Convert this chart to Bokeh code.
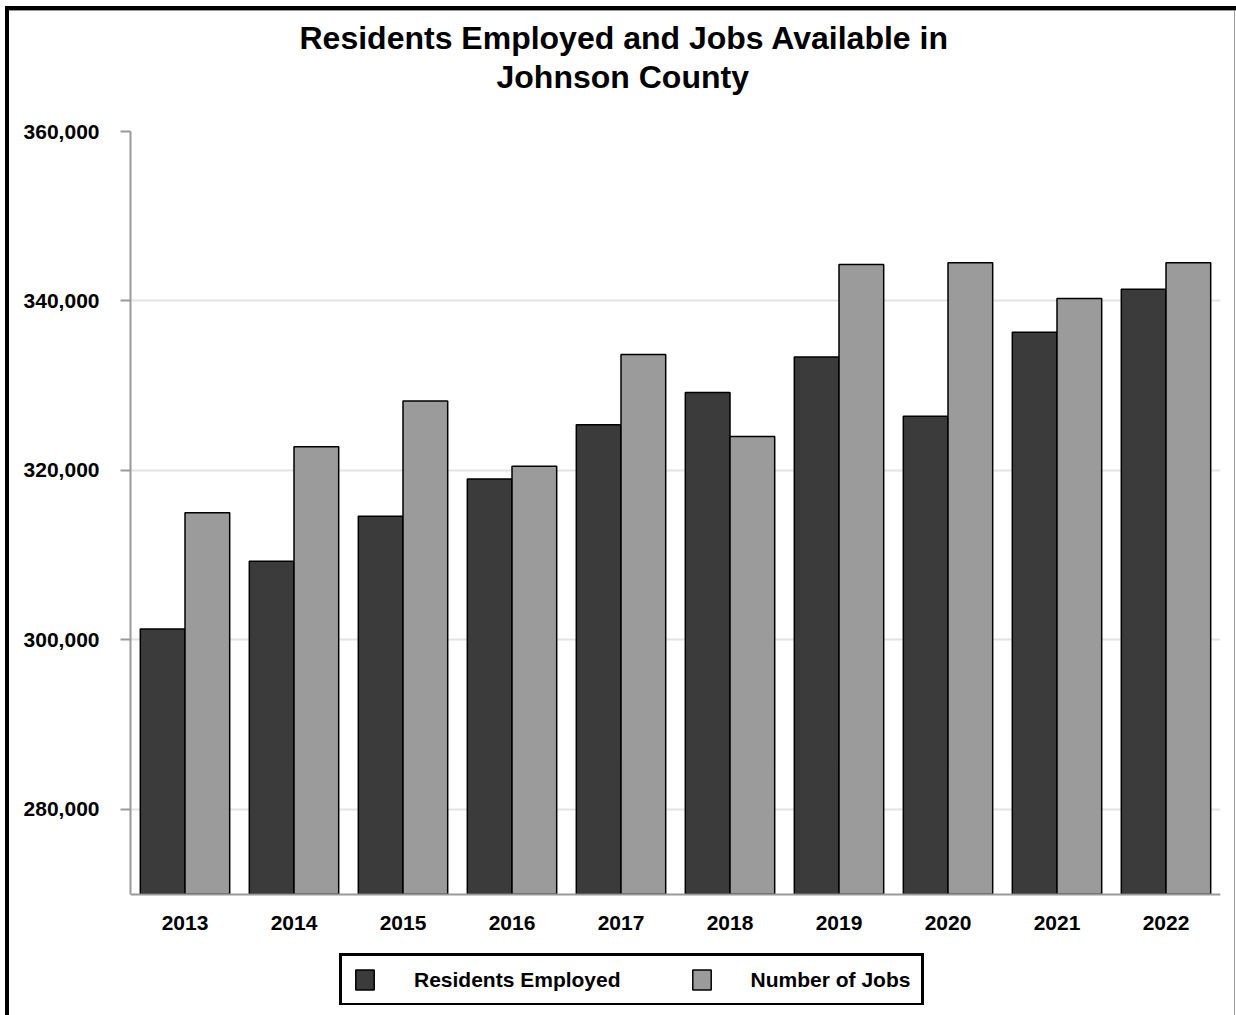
from bokeh.plotting import figure
from bokeh.models import (ColumnDataSource, FactorRange, Legend, LegendItem,
                          NumeralTickFormatter, FixedTicker, Title)
from bokeh.transform import dodge
from bokeh.embed import file_html
from bokeh.resources import INLINE

years = ["2013", "2014", "2015", "2016", "2017", "2018", "2019", "2020", "2021", "2022"]
residents_employed = [301300, 309300, 314600, 319000, 325400, 329200, 333400, 326400, 336300, 341400]
number_of_jobs = [315000, 322800, 328200, 320500, 333700, 324000, 344300, 344500, 340300, 344500]
y_ticks = [280000, 300000, 320000, 340000, 360000]
title_lines = ["Residents Employed and Jobs Available in", "Johnson County"]

FONT = "Liberation Sans"
BASE = 270000

src = ColumnDataSource(dict(year=years, res=residents_employed, jobs=number_of_jobs))

p = figure(width=1236, height=1015, x_range=FactorRange(*years, range_padding=0),
           y_range=(256870, 360000), output_backend="svg", toolbar_location=None,
           title=None,
           min_border_left=130, min_border_right=16, min_border_top=131, min_border_bottom=10)

# outer frame drawn by CSS behind a transparent border area
p.border_fill_color = None
p.background_fill_color = "white"
p.styles = {
    "background": ("linear-gradient(#000,#000) 5px 6px / 4px 1009px no-repeat, "
                   "linear-gradient(#000,#000) 5px 6px / 1231px 4px no-repeat, "
                   "linear-gradient(#9a9a9a,#9a9a9a) 9px 10px / 1227px 1px no-repeat, "
                   "linear-gradient(#9a9a9a,#9a9a9a) 1234px 10px / 1px 1005px no-repeat, "
                   "white")
}

# titles: first added sits nearest the frame
offsets = {title_lines[0]: 169, title_lines[1]: 366}
standoffs = {title_lines[0]: -72, title_lines[1]: 74}
for txt in reversed(title_lines):
    t = Title(text=txt, align="left", text_font=FONT, text_font_size="32px",
              text_font_style="bold", text_color="black", offset=offsets[txt],
              standoff=standoffs[txt])
    p.add_layout(t, "above")

r1 = p.vbar(x=dodge("year", -0.205, range=p.x_range), top="res", bottom=BASE, width=0.41,
            source=src, fill_color="#3b3b3b", line_color="black", line_width=1.5)
r2 = p.vbar(x=dodge("year", 0.205, range=p.x_range), top="jobs", bottom=BASE, width=0.41,
            source=src, fill_color="#9b9b9b", line_color="black", line_width=1.5)

p.outline_line_color = None
p.xgrid.grid_line_color = None
p.ygrid.grid_line_color = "#e3e3e3"
p.ygrid.grid_line_width = 2
p.ygrid.ticker = FixedTicker(ticks=y_ticks)

p.yaxis.ticker = FixedTicker(ticks=y_ticks)
p.yaxis.bounds = (BASE, 360000)
p.yaxis.formatter = NumeralTickFormatter(format="0,0")
p.yaxis.axis_line_color = "#999999"
p.yaxis.axis_line_width = 2
p.yaxis.major_tick_line_color = "#999999"
p.yaxis.major_tick_line_width = 2
p.yaxis.major_tick_out = 10
p.yaxis.major_tick_in = 0
p.yaxis.minor_tick_line_color = None
p.yaxis.major_label_standoff = 21
p.yaxis.major_label_text_font = FONT
p.yaxis.major_label_text_font_size = "21px"
p.yaxis.major_label_text_font_style = "bold"
p.yaxis.major_label_text_color = "black"

p.xaxis.fixed_location = BASE
p.xaxis.axis_line_color = "#999999"
p.xaxis.axis_line_width = 2
p.xaxis.major_tick_line_color = None
p.xaxis.minor_tick_line_color = None
p.xaxis.major_label_standoff = 16
p.xaxis.major_label_text_font = FONT
p.xaxis.major_label_text_font_size = "21px"
p.xaxis.major_label_text_font_style = "bold"
p.xaxis.major_label_text_color = "black"

legend = Legend(items=[LegendItem(label="Residents Employed", renderers=[r1]),
                       LegendItem(label="Number of Jobs", renderers=[r2])],
                orientation="horizontal", location=(209, -1))
legend.border_line_color = "black"
legend.border_line_alpha = 1
legend.border_line_width = 3
legend.padding = 11
legend.spacing = 69
legend.glyph_width = 23
legend.glyph_height = 25
legend.label_standoff = 38
legend.label_text_font = FONT
legend.label_text_font_size = "21px"
legend.label_text_font_style = "bold"
legend.label_text_color = "black"
legend.background_fill_color = "white"
legend.background_fill_alpha = 1
p.add_layout(legend, "center")

open("out.html", "w").write(file_html(p, INLINE))
